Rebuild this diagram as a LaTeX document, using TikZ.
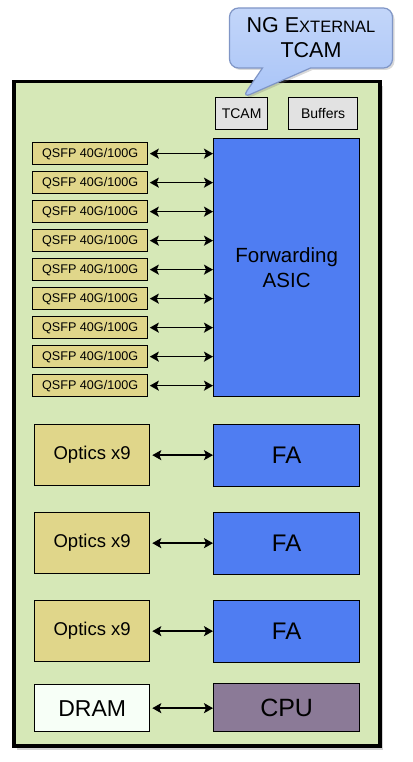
\documentclass[tikz,border=0pt]{standalone}
\usepackage{fontspec}
\setmainfont{Liberation Sans}
\usetikzlibrary{shapes.callouts,shadows,arrows.meta}
\definecolor{boardgreen}{HTML}{D6E8B7}
\definecolor{khaki}{HTML}{E0D68A}
\definecolor{asicblue}{HTML}{4F7DF2}
\definecolor{cpupurple}{HTML}{8B7A97}
\definecolor{boxgray}{HTML}{E2E2E2}
\definecolor{callblue}{HTML}{A9C4F7}
\definecolor{callborder}{HTML}{8096C6}
\tikzset{
  blk/.style={draw=black, line width=1.3pt, inner sep=0pt, anchor=north west},
  qsfp/.style={blk, fill=khaki, minimum width=115pt, minimum height=22pt, font=\fontsize{12.6}{14}\selectfont},
  optic/.style={blk, fill=khaki, minimum width=115pt, minimum height=61pt, font=\fontsize{18.5}{20}\selectfont},
  fa/.style={blk, fill=asicblue, minimum width=146pt, minimum height=62pt, font=\fontsize{24}{26}\selectfont},
  smallbox/.style={blk, fill=boxgray, minimum height=32pt, font=\fontsize{14}{16}\selectfont},
  link/.style={line width=1.6pt, {Stealth[length=9pt,width=10pt,inset=2pt]}-{Stealth[length=9pt,width=10pt,inset=2pt]}}
}
\begin{document}
\begin{tikzpicture}[x=1pt,y=-1pt]
\useasboundingbox (0,0) rectangle (412,762);
\node[draw=black, line width=3.5pt, fill=boardgreen, anchor=north west, minimum width=366pt, minimum height=664pt, inner sep=0pt,
  drop shadow={shadow xshift=3pt, shadow yshift=-4pt, opacity=0.35}] (board) at (12,80) {};
\node[smallbox, minimum width=52pt] (tcam) at (215,97) {TCAM};
\node[smallbox, minimum width=69pt] (buf) at (288,97) {Buffers};
\node[blk, fill=asicblue, minimum width=146pt, minimum height=258pt, align=center, font=\fontsize{20.5}{25}\selectfont] (asic) at (213,138) {Forwarding\\ASIC};
\foreach \i in {0,...,8} {
  \node[qsfp] (q\i) at (32,{142+29*\i}) {QSFP 40G/100G};
  \draw[link] (q\i.east) ++(1.5,0) -- ({asic.west}|-q\i.east);
}
\foreach \i/\y in {1/424, 2/512, 3/600} {
  \node[optic] (o\i) at (34,\y) {Optics x9};
  \node[fa] (f\i) at (213,\y) {FA};
  \draw[link] ([xshift=2pt]o\i.east) -- (f\i.west |- o\i.east);
}
\node[blk, fill=white!97!green, minimum width=115pt, minimum height=47pt, font=\fontsize{23}{25}\selectfont] (dram) at (34,684) {DRAM};
\node[blk, fill=cpupurple, minimum width=146pt, minimum height=48pt, font=\fontsize{25}{27}\selectfont] (cpu) at (213,683) {CPU};
\draw[link] ([xshift=2pt]dram.east) -- (cpu.west |- dram.east);
\node[rectangle callout, rounded corners=9pt, draw=callborder, line width=1.2pt, top color=callblue!70!white, bottom color=callblue,
  minimum width=163pt, minimum height=60pt, callout pointer width=48pt, align=center,
  callout absolute pointer={(242,98)}, font=\fontsize{21.5}{25}\selectfont,
  drop shadow={shadow xshift=2pt, shadow yshift=-2pt, opacity=0.3}] (call) at (311,38)
  {NG E{\fontsize{16.5}{25}\selectfont XTERNAL}\\TCAM};
\end{tikzpicture}
\end{document}
